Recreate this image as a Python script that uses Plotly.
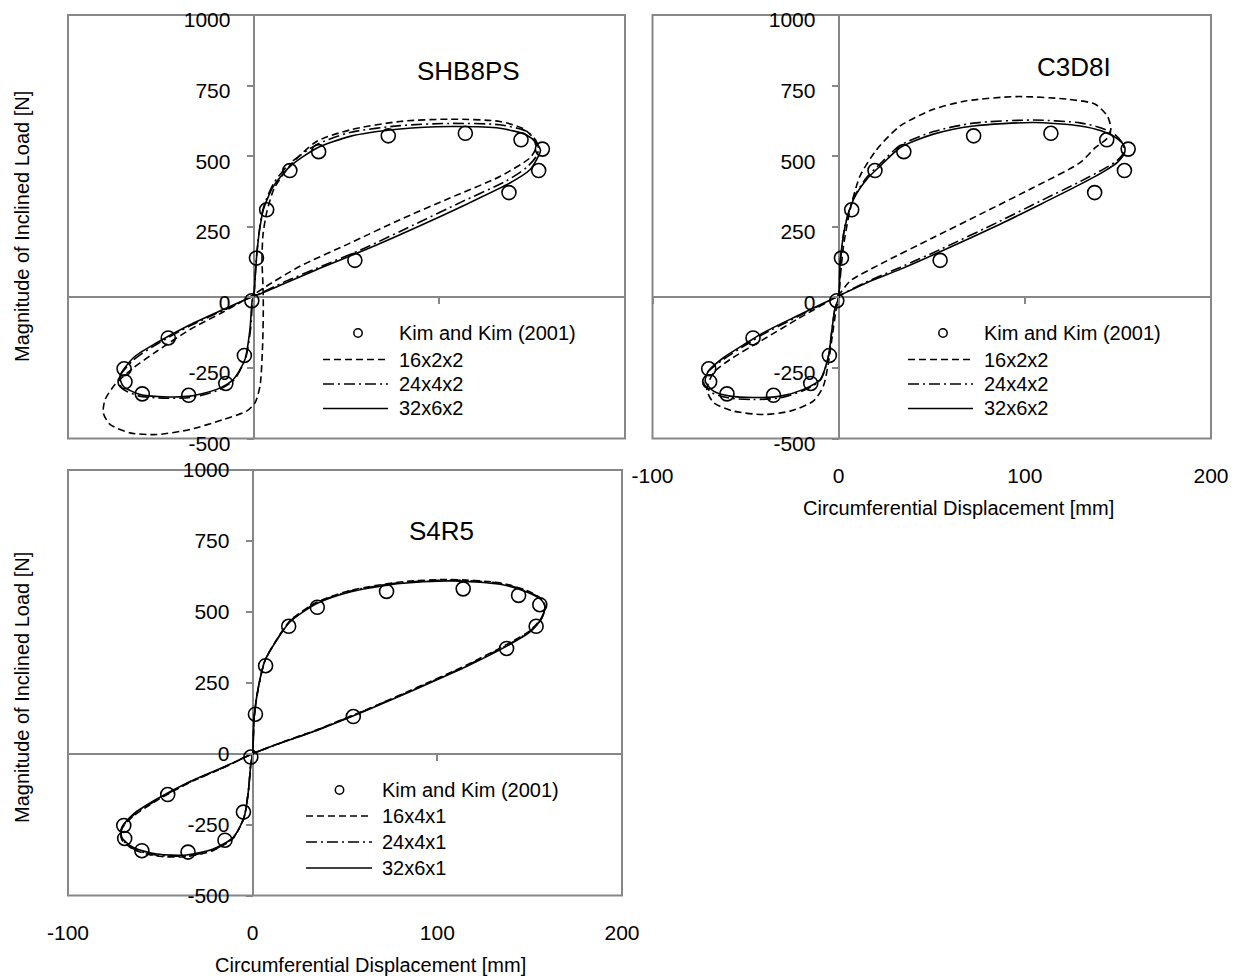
import plotly.graph_objects as go

# page offset of the plot div (default body margin) and resulting figure size
OFF = 8
W, H = 1241 - OFF, 980 - OFF

# ---------------- data ----------------
x_ticks = [-100, 0, 100, 200]
y_ticks = [-500, -250, 0, 250, 500, 750, 1000]
x_tick_text = ['-100', '0', '100', '200']
y_tick_text = ['-500', '-250', '0', '250', '500', '750', '1000']
x_range = [-100, 200]
y_range = [-500, 1000]

# Experimental (Kim and Kim, 2001)
kim_x = [-1, 1.5, 7, 19.5, 35, 72.5, 114, 144, 155.5, 153.5, 137.5, 54.5,
         -46, -69.8, -69.3, -60, -35, -15, -5]
kim_y = [-12, 139, 310, 449, 516, 572, 581, 558, 525, 449, 371, 131,
         -144, -253, -299, -342, -347, -305, -206]

# SHB8PS
shb_16x2x2_x = [5.0, 4.5, 5.0, 7.0, 11.0, 20.0, 33.9, 51.9, 78.8, 105.7, 132.6, 145.0, 150.5, 152.0,
                149.0, 132.6, 105.7, 78.8, 51.9, 24.9, 7.0, 0.0, -16.4, -34.3, -52.2, -64.8, -74.7,
                -80.0, -81.0, -77.4, -66.6, -52.2, -34.3, -16.4, -3.8, 0.7, 3.4, 4.8, 5.2, 5.0]
shb_16x2x2_y = [45, 130, 220, 300, 385, 470, 552, 593, 623, 631, 623, 598, 565, 530,
                495, 428, 352, 275, 192, 110, 40, 10, -52, -114, -191, -250, -309,
                -362, -409, -450, -480, -486, -468, -433, -403, -374, -315, -173, -32, 45]
shb_24x4x2_x = [0, 0.8, 1.6, 3.0, 5.2, 10.6, 19.5, 33.9, 51.9, 78.8, 105.7, 132.6, 147.0, 152.0,
                153.5, 152.0, 147.0, 136.0, 112.0, 86.0, 60.0, 34.0, 16.0, 3.4, 0.0, -16.4, -34.3,
                -52.2, -64.8, -72.5, -71.0, -62.0, -48.7, -34.3, -19.9, -10.5, -4.2, -1.6, -0.5, 0]
shb_24x4x2_y = [0, 72, 148, 235, 316, 402, 474, 541, 584, 608, 616, 611, 588, 556,
                525, 497, 460, 412, 338, 256, 175, 103, 53, 14, 5, -46, -101,
                -166, -222, -285, -322, -349, -357, -355, -331, -292, -212, -108, -8, 0]
shb_32x6x2_x = [0, 0.8, 1.6, 3.0, 5.2, 10.6, 19.5, 33.9, 51.9, 78.8, 105.7, 132.6, 147.0, 152.4,
                154.5, 153.3, 148.8, 138.0, 114.7, 87.8, 60.8, 33.9, 15.9, 3.4, 0.0, -16.4, -34.3,
                -52.2, -64.8, -72.0, -70.2, -61.2, -48.7, -34.3, -19.9, -11.0, -4.7, -2.0, -0.7, 0]
shb_32x6x2_y = [0, 70, 145, 230, 310, 393, 463, 528, 570, 596, 605, 599, 575, 546,
                520, 499, 452, 405, 330, 248, 170, 98, 47, 12, 5, -43, -97,
                -161, -214, -279, -315, -344, -352, -350, -326, -291, -220, -114, -8, 0]

# C3D8I
c3d_16x2x2_x = [0, 1.0, 2.6, 6.2, 11.5, 20.5, 33.0, 50.9, 68.8, 95.7, 122.6, 137.8, 144.5, 146.2,
                144.0, 137.8, 129.7, 104.6, 77.8, 50.9, 24.0, 6.2, 0, -22.4, -40.4, -58.3, -67.2,
                -70.8, -67.2, -56.5, -40.4, -26.0, -13.5, -8.2, -5.5, -3.5, -1.5, 0]
c3d_16x2x2_y = [0, 80, 182, 312, 430, 524, 607, 666, 696, 711, 702, 684, 640, 595,
                562, 530, 477, 389, 300, 212, 123, 58, 10, -78, -149, -220, -267,
                -326, -373, -403, -415, -403, -367, -314, -232, -140, -50, 0]
c3d_24x4x2_x = [0, 0.8, 3.5, 8.0, 15.1, 22.3, 33.0, 50.9, 72.4, 104.6, 129.7, 141.0, 149.0, 153.0,
                153.0, 149.5, 142.5, 129.7, 108.0, 86.7, 55.4, 33.0, 15.1, 0, -22.4, -40.4, -49.3,
                -61.9, -70.5, -72.5, -68.0, -58.3, -45.8, -31.4, -18.9, -9.9, -5.5, -3.6, -2.0, 0]
c3d_24x4x2_y = [0, 125, 256, 352, 425, 473, 538, 587, 617, 628, 618, 600, 573, 540,
                512, 484, 455, 410, 340, 270, 172, 106, 55, 5, -70, -130, -166,
                -220, -266, -303, -338, -357, -362, -356, -330, -294, -210, -114, -40, 0]
c3d_32x6x2_x = [0, 0.8, 3.5, 8.0, 15.1, 22.3, 33.0, 50.9, 72.4, 104.6, 129.7, 141.0, 149.0, 153.5,
                153.5, 150.0, 143.0, 129.7, 108.0, 86.7, 55.4, 33.0, 15.1, 0, -22.4, -40.4, -49.3,
                -61.9, -69.9, -71.7, -67.2, -58.3, -45.8, -31.4, -18.9, -9.9, -5.5, -3.6, -2.0, 0]
c3d_32x6x2_y = [0, 123, 253, 347, 418, 465, 530, 578, 607, 619, 607, 590, 565, 535,
                510, 480, 448, 400, 328, 259, 164, 99, 52, 5, -66, -125, -161,
                -214, -261, -297, -332, -350, -355, -350, -326, -291, -208, -114, -40, 0]

# S4R5
s4r_x = [0, 0.8, 3.1, 6.7, 13.0, 20.3, 34.7, 52.7, 79.8, 106.9, 134.0, 148.4, 156.5, 158.3,
         156.5, 150.2, 137.6, 116.0, 88.9, 61.8, 34.7, 16.6, 0, -15.9, -33.9, -51.9, -64.6,
         -70.9, -70.9, -64.6, -51.9, -35.7, -21.3, -10.5, -4.7, -2.3, -1.0, 0]
s4r_16x4x1_y = [0, 127, 233, 329, 402, 469, 534, 575, 605, 614, 602, 575, 545, 520,
                480, 434, 385, 313, 233, 156, 84, 42, 0, -50, -101, -165, -220,
                -266, -302, -338, -361, -363, -341, -298, -226, -131, -36, 0]
s4r_24x4x1_y = [0, 128, 234, 329, 401, 467, 532, 573, 603, 612, 600, 573, 543, 519,
                478, 432, 382, 311, 231, 155, 83, 41, 0, -49, -100, -163, -217,
                -263, -299, -335, -358, -360, -339, -296, -225, -131, -36, 0]
s4r_32x6x1_y = [0, 129, 235, 329, 400, 465, 529, 570, 600, 609, 597, 570, 541, 518,
                476, 429, 379, 308, 229, 153, 82, 41, 0, -48, -98, -160, -213,
                -260, -295, -331, -354, -357, -336, -295, -225, -131, -36, 0]

# ---------------- styling ----------------
GRAY = '#878787'
FONT = 'Arial, Liberation Sans, sans-serif'
DASHES = ['7px,4px', '11px,4px,2px,4px', 'solid']

panels = [
    dict(title='SHB8PS', labels=['16x2x2', '24x4x2', '32x6x2'],
         curves=[(shb_16x2x2_x, shb_16x2x2_y), (shb_24x4x2_x, shb_24x4x2_y), (shb_32x6x2_x, shb_32x6x2_y)],
         box=(68, 625, 15, 438.5), title_pos=(468, 71), yshift=5,
         leg_marker=358, leg_line=(323, 388), leg_text=397, leg_rows=[333, 359.5, 384, 408.5],
         xlabels=False, ytitle=(22, 227), xtitle=None),
    dict(title='C3D8I', labels=['16x2x2', '24x4x2', '32x6x2'],
         curves=[(c3d_16x2x2_x, c3d_16x2x2_y), (c3d_24x4x2_x, c3d_24x4x2_y), (c3d_32x6x2_x, c3d_32x6x2_y)],
         box=(652.5, 1211, 15, 438.5), title_pos=(1074, 67), yshift=5,
         leg_marker=943, leg_line=(908, 973), leg_text=982, leg_rows=[333, 359.5, 384, 408.5],
         xlabels=True, ytitle=None, xtitle=(958, 508)),
    dict(title='S4R5', labels=['16x4x1', '24x4x1', '32x6x1'],
         curves=[(s4r_x, s4r_16x4x1_y), (s4r_x, s4r_24x4x1_y), (s4r_x, s4r_32x6x1_y)],
         box=(68, 622, 470, 895.5), title_pos=(441, 531), yshift=0,
         leg_marker=339.5, leg_line=(306, 372), leg_text=380, leg_rows=[790, 816, 842, 868],
         xlabels=True, ytitle=(22, 688), xtitle=(370, 965)),
]

fig = go.Figure()
layout = dict(width=W, height=H, autosize=False, margin=dict(l=0, r=0, t=0, b=0, pad=0),
              paper_bgcolor='white', plot_bgcolor='white', showlegend=False,
              font=dict(family=FONT, color='black'))
shapes, annotations = [], []


def fx(p):
    return (p - OFF) / W


def fy(p):
    return 1 - (p - OFF) / H


for i, pn in enumerate(panels, start=1):
    xid = 'x' if i == 1 else f'x{i}'
    yid = 'y' if i == 1 else f'y{i}'
    xoid = f'x{i + 3}'
    x0p, x1p, y0p, y1p = pn['box']
    xdom = [fx(x0p), fx(x1p)]
    ydom = [fy(y1p), fy(y0p)]
    # paper positions of the data zero lines (from the axis scales)
    xzero = xdom[0] + (0 - x_range[0]) / (x_range[1] - x_range[0]) * (xdom[1] - xdom[0])
    yzero = ydom[0] + (0 - y_range[0]) / (y_range[1] - y_range[0]) * (ydom[1] - ydom[0])

    xkey = 'xaxis' if i == 1 else f'xaxis{i}'
    ykey = 'yaxis' if i == 1 else f'yaxis{i}'
    layout[xkey] = dict(domain=xdom, range=x_range, anchor=yid, showgrid=False, automargin=False,
                        zeroline=True, zerolinecolor=GRAY, zerolinewidth=1.5,
                        showline=False, ticks='', tickmode='array', tickvals=x_ticks,
                        ticktext=x_tick_text, ticklabeloverflow='allow',
                        showticklabels=pn['xlabels'], ticklabelstandoff=22,
                        tickfont=dict(size=21, family=FONT, color='black'), fixedrange=True)
    layout[ykey] = dict(domain=ydom, range=y_range, anchor='free', position=xzero,
                        automargin=False, ticklabeloverflow='allow',
                        ticklabelshift=pn['yshift'],
                        showgrid=False, zeroline=True, zerolinecolor=GRAY, zerolinewidth=1.5,
                        showline=False, ticks='outside', ticklen=7, tickwidth=1.5, tickcolor=GRAY,
                        tickmode='array', tickvals=y_ticks, ticktext=y_tick_text,
                        ticklabelstandoff=12,
                        tickfont=dict(size=21, family=FONT, color='black'), fixedrange=True)
    layout[f'xaxis{i + 3}'] = dict(overlaying=xid, range=x_range, anchor='free', position=yzero,
                                   automargin=False,
                                   showgrid=False, zeroline=False, showline=False,
                                   ticks='outside', ticklen=6, tickwidth=1.5, tickcolor=GRAY,
                                   tickmode='array', tickvals=x_ticks, showticklabels=False,
                                   fixedrange=True)

    # plot-area border
    shapes.append(dict(type='rect', xref=f'{xid} domain', yref=f'{yid} domain',
                       x0=0, x1=1, y0=0, y1=1, line=dict(color=GRAY, width=2), layer='below'))

    # curves
    for (cx, cy), lab, dash in zip(pn['curves'], pn['labels'], DASHES):
        fig.add_trace(go.Scatter(x=cx, y=cy, mode='lines', name=lab, xaxis=xid, yaxis=yid,
                                 line=dict(color='black', width=1.6, dash=dash,
                                           shape='spline', smoothing=0.7),
                                 hoverinfo='skip'))
    # experimental points
    fig.add_trace(go.Scatter(x=kim_x, y=kim_y, mode='markers', name='Kim and Kim (2001)',
                             xaxis=xoid, yaxis=yid,
                             marker=dict(symbol='circle-open', size=14, color='black',
                                         line=dict(width=1.6, color='black')),
                             hoverinfo='skip'))

    # panel title
    tx, ty = pn['title_pos']
    annotations.append(dict(text=pn['title'], x=fx(tx), y=fy(ty), xref='paper', yref='paper',
                            showarrow=False, xanchor='center', yanchor='middle',
                            font=dict(size=26, family=FONT, color='black')))

    # legend
    rows = pn['leg_rows']
    mx, r = pn['leg_marker'], 4.2
    shapes.append(dict(type='circle', xref='paper', yref='paper',
                       x0=fx(mx - r), x1=fx(mx + r), y0=fy(rows[0] + r), y1=fy(rows[0] - r),
                       line=dict(color='black', width=1.5)))
    annotations.append(dict(text='Kim and Kim (2001)', x=fx(pn['leg_text']), y=fy(rows[0]),
                            xref='paper', yref='paper', showarrow=False, xanchor='left',
                            yanchor='middle', font=dict(size=20, family=FONT, color='black')))
    l0, l1 = pn['leg_line']
    for lab, dash, ry in zip(pn['labels'], DASHES, rows[1:]):
        shapes.append(dict(type='line', xref='paper', yref='paper',
                           x0=fx(l0), x1=fx(l1), y0=fy(ry), y1=fy(ry),
                           line=dict(color='black', width=1.6, dash=dash)))
        annotations.append(dict(text=lab, x=fx(pn['leg_text']), y=fy(ry), xref='paper',
                                yref='paper', showarrow=False, xanchor='left', yanchor='middle',
                                font=dict(size=20, family=FONT, color='black')))

    # axis titles
    if pn['ytitle']:
        ax_, ay_ = pn['ytitle']
        annotations.append(dict(text='Magnitude of Inclined Load [N]', x=fx(ax_), y=fy(ay_),
                                xref='paper', yref='paper', showarrow=False, textangle=-90,
                                xanchor='center', yanchor='middle',
                                font=dict(size=20, family=FONT, color='black')))
    if pn['xtitle']:
        ax_, ay_ = pn['xtitle']
        annotations.append(dict(text='Circumferential Displacement [mm]', x=fx(ax_), y=fy(ay_),
                                xref='paper', yref='paper', showarrow=False,
                                xanchor='center', yanchor='middle',
                                font=dict(size=20, family=FONT, color='black')))

layout['shapes'] = shapes
layout['annotations'] = annotations
fig.update_layout(**layout)
fig.write_html('out.html')
